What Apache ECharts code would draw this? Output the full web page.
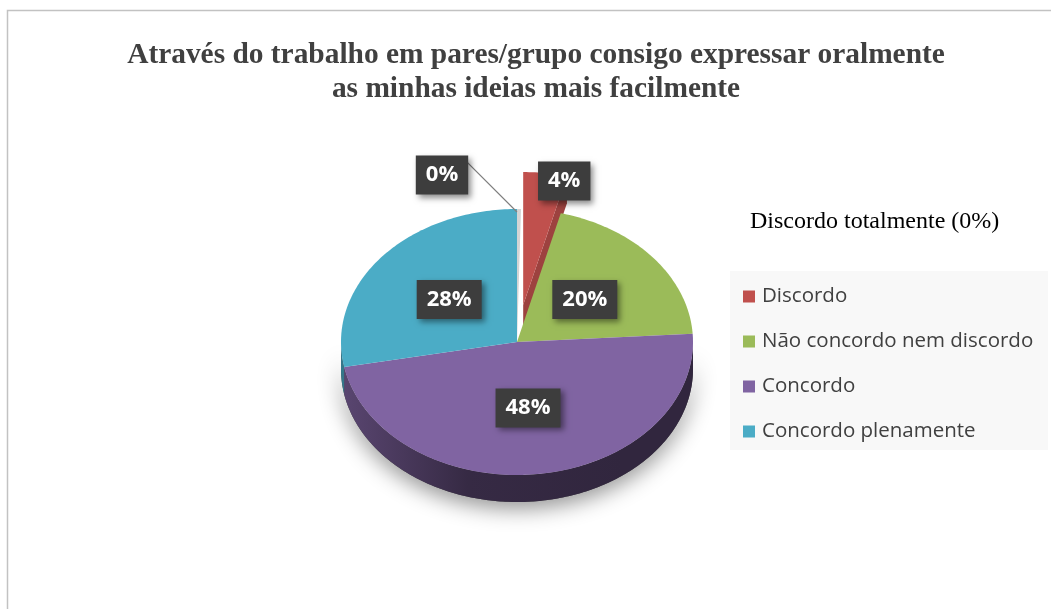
<!DOCTYPE html>
<html>
<head>
<meta charset="utf-8">
<script src="https://cdn.jsdelivr.net/npm/echarts@6/dist/echarts.min.js"></script>
<style>
  html, body { margin: 0; padding: 0; background: #ffffff; }
  #chart { width: 1051px; height: 609px; }
</style>
</head>
<body>
<div id="chart"></div>
<script>
// ---- data ----
const categories = ['Discordo totalmente', 'Discordo', 'Não concordo nem discordo', 'Concordo', 'Concordo plenamente'];
const percentages = [0, 4, 20, 48, 28];
const sliceColors = ['#D4D4D4', '#C0504D', '#9BBB59', '#8064A2', '#4BACC6'];
const legendCategories = categories.slice(1);
const titleText = 'Através do trabalho em pares/grupo consigo expressar oralmente\nas minhas ideias mais facilmente';
const noteText = 'Discordo totalmente (0%)';

// ---- pie geometry (tilted pie drawn as an ellipse with a side wall) ----
const PIE = { cx: 517, cy: 342, rx: 176, ry: 133, depth: 27 };
const EXPLODE = { 1: 0.28 };          // slice index -> pull-out fraction of radius
const ZERO_SLIVER = 1.3;              // degrees so a 0% slice still shows as a thin strip
const LABEL_OUTSIDE = {               // labels placed next to the rim instead of inside
  0: { dx: -77, dy: -34, leader: true },
  1: { dx: 19, dy: 8 }
};

const total = percentages.reduce((s, v) => s + v, 0);
const starts = [];
let acc = 0;
percentages.forEach(v => { starts.push(acc / total * 360); acc += v; });

const rad = d => d * Math.PI / 180;
function pt(theta, f, o) {
  return [PIE.cx + o[0] + PIE.rx * f * Math.sin(rad(theta)),
          PIE.cy + o[1] - PIE.ry * f * Math.cos(rad(theta))];
}
function shade(hex, k) {
  const n = parseInt(hex.slice(1), 16);
  const r = Math.round(((n >> 16) & 255) * k), g = Math.round(((n >> 8) & 255) * k), b = Math.round((n & 255) * k);
  return 'rgb(' + r + ',' + g + ',' + b + ')';
}
function sliceRange(i) {
  const a = starts[i];
  let b = a + percentages[i] / total * 360;
  if (b - a < ZERO_SLIVER) b = a + ZERO_SLIVER;
  return [a, b];
}
function offset(i) {
  const e = EXPLODE[i] || 0;
  const r = sliceRange(i), m = (r[0] + r[1]) / 2;
  return [PIE.rx * e * Math.sin(rad(m)), -PIE.ry * e * Math.cos(rad(m))];
}
function arc(a, b, o, dy) {
  const pts = [];
  const n = Math.max(2, Math.ceil(b - a));
  for (let k = 0; k <= n; k++) {
    const p = pt(a + (b - a) * k / n, 1, o);
    pts.push([p[0], p[1] + dy]);
  }
  return pts;
}

function renderSlice(i) {
  const children = [];
  const [a, b] = sliceRange(i);
  const o = offset(i);
  const col = sliceColors[i];

  if (i === 0) {
    // soft drop shadow under the whole front rim
    const top = arc(90, 270, [0, 0], 0);
    const bot = arc(90, 270, [0, 0], PIE.depth).reverse();
    children.push({
      type: 'polygon', shape: { points: top.concat(bot) },
      style: { fill: '#444', shadowBlur: 22, shadowColor: 'rgba(0,0,0,0.45)', shadowOffsetY: 6 }
    });
  }

  // outer side wall on the front half
  const lo = Math.max(a, 90), hi = Math.min(b, 270);
  if (hi > lo) {
    const grad = {
      type: 'linear', x: PIE.cx - PIE.rx, y: 0, x2: PIE.cx + PIE.rx * 0.6, y2: 0, global: true,
      colorStops: [{ offset: 0, color: shade(col, 0.7) }, { offset: 0.45, color: shade(col, 0.42) }, { offset: 1, color: shade(col, 0.38) }]
    };
    const top = arc(lo, hi, o, 0);
    const bot = arc(lo, hi, o, PIE.depth).reverse();
    children.push({ type: 'polygon', shape: { points: top.concat(bot) }, style: { fill: grad } });
  }

  // cut faces of a pulled-out slice
  if (EXPLODE[i]) {
    const c = pt(0, 0, o);
    [[b, Math.sin(rad(b)) > 0], [a, -Math.sin(rad(a)) > 0]].forEach(function (f) {
      if (!f[1]) return;
      const e = pt(f[0], 1, o);
      children.push({
        type: 'polygon',
        shape: { points: [c, e, [e[0], e[1] + PIE.depth], [c[0], c[1] + PIE.depth]] },
        style: { fill: shade(col, 0.82) }
      });
    });
  }

  // top face
  const c = pt(0, 0, o);
  children.push({ type: 'polygon', shape: { points: [c].concat(arc(a, b, o, 0)) }, style: { fill: col } });
  return { type: 'group', children: children };
}

function renderLabel(i) {
  const [a, b] = sliceRange(i);
  const o = offset(i);
  const m = (a + b) / 2;
  const out = LABEL_OUTSIDE[i];
  let p;
  const children = [];
  const text = percentages[i] + '%';
  if (out) {
    const rim = pt(m, 1, o);
    p = [rim[0] + out.dx, rim[1] + out.dy];
    if (out.leader) {
      const halfW = text.length * 8 + 1;
      const s = [p[0] + halfW, p[1] - 13];
      children.push({
        type: 'polyline',
        shape: { points: [s, [s[0] + 8, s[1]], [rim[0] - 2, rim[1] + 3]] },
        style: { stroke: '#7f7f7f', lineWidth: 1.2, fill: null }
      });
    }
  } else {
    p = pt(m, 0.5, o);
  }
  children.push({
    type: 'text',
    style: {
      text: text, x: p[0], y: p[1], align: 'center', verticalAlign: 'middle',
      fill: '#ffffff', font: 'bold 22px "Open Sans", sans-serif',
      backgroundColor: '#3d3d3d', padding: [9, 10, 8, 10],
      shadowBlur: 6, shadowColor: 'rgba(0,0,0,0.45)', shadowOffsetX: 3, shadowOffsetY: 3
    }
  });
  return { type: 'group', children: children };
}

const series = categories.map(function (name, i) {
  return {
    type: 'custom', name: name, coordinateSystem: 'none',
    itemStyle: { color: sliceColors[i] },
    data: [[percentages[i]]],
    renderItem: function () { return renderSlice(i); },
    silent: true, animation: false
  };
});
series.push({
  type: 'custom', name: 'rótulos', coordinateSystem: 'none', z: 5,
  data: percentages.map(v => [v]),
  renderItem: function (params) { return renderLabel(params.dataIndex); },
  silent: true, animation: false
});

const chart = echarts.init(document.getElementById('chart'), null, { renderer: 'canvas' });
chart.setOption({
  animation: false,
  backgroundColor: '#ffffff',
  title: {
    text: titleText, left: 531, top: 33, textAlign: 'center',
    textStyle: { fontFamily: '"Liberation Serif", serif', fontWeight: 'bold', fontSize: 29.4, lineHeight: 34, color: '#404040' }
  },
  legend: {
    data: legendCategories, orient: 'vertical', left: 738, top: 281,
    icon: 'rect', itemWidth: 12, itemHeight: 12, itemGap: 24,
    selectedMode: false,
    textStyle: { fontFamily: '"Open Sans", sans-serif', fontSize: 20.5, color: '#404040', lineHeight: 20, padding: [0, 0, 0, 2] }
  },
  graphic: [
    { type: 'rect', z: -10, silent: true, shape: { x: 7.5, y: 10.5, width: 1200, height: 800 }, style: { fill: '#ffffff', stroke: '#c2c2c2', lineWidth: 1.5 } },
    { type: 'rect', z: -5, silent: true, shape: { x: 730, y: 271, width: 318, height: 179 }, style: { fill: '#f8f8f8' } },
    { type: 'text', silent: true, x: 750, y: 222, style: { text: noteText, font: '24px "Liberation Serif", serif', fill: '#000000', verticalAlign: 'middle' } }
  ],
  series: series
});
</script>
</body>
</html>
